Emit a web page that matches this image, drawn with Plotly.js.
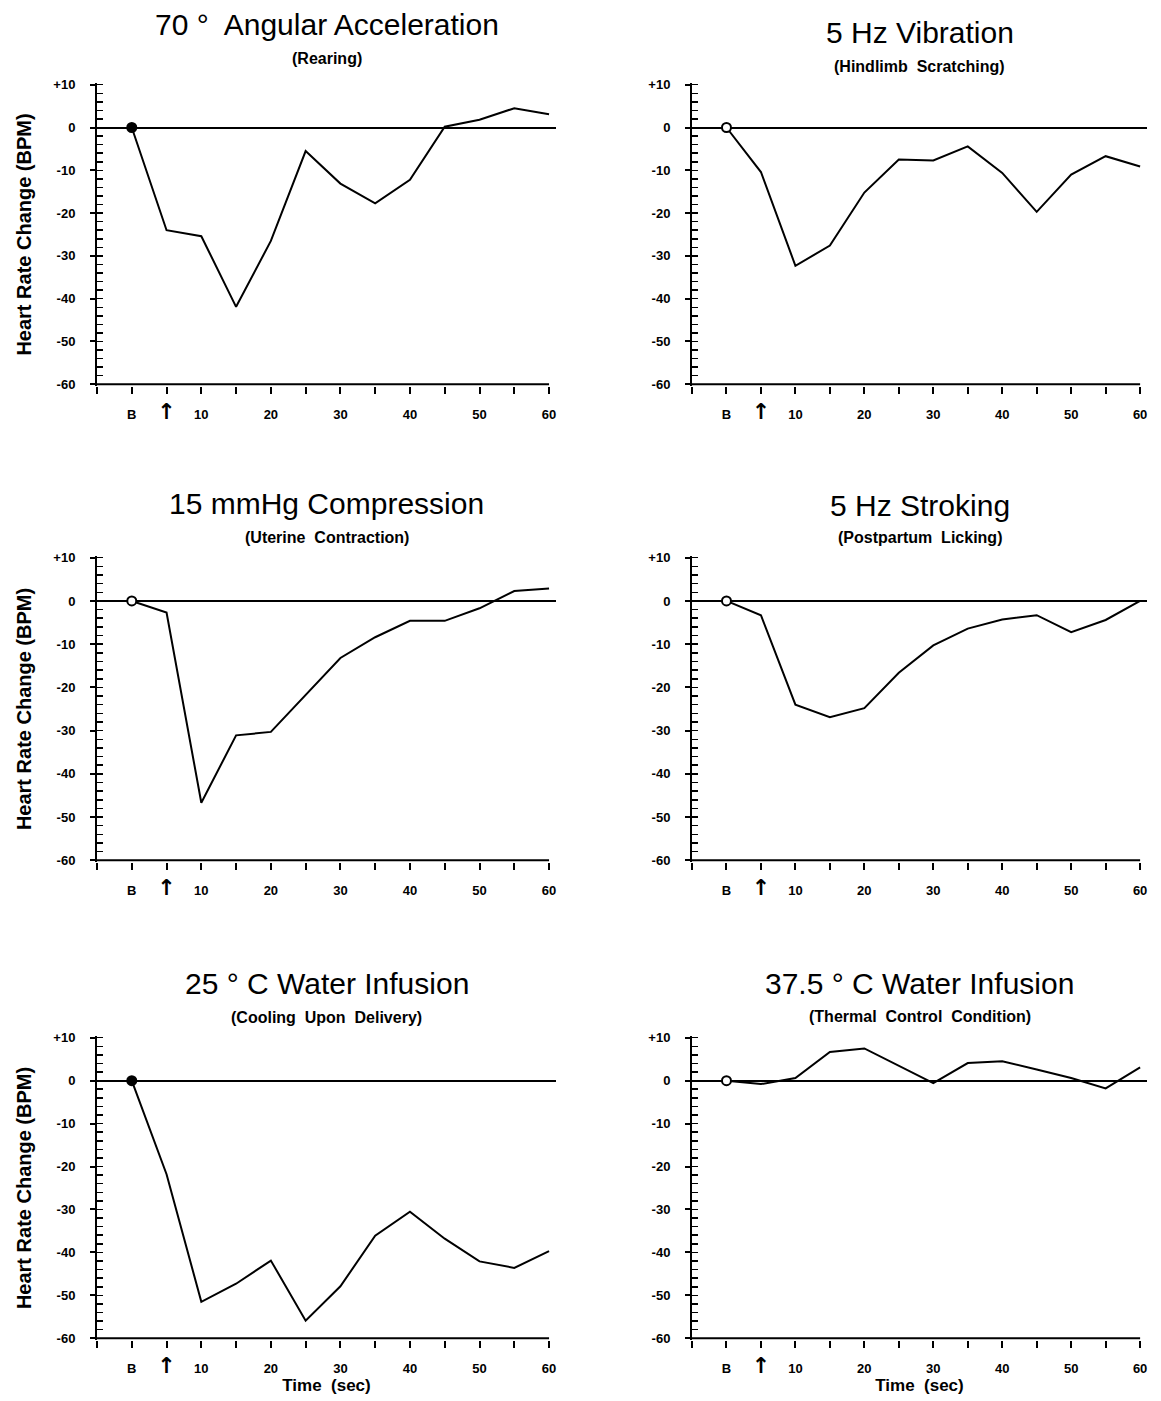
<!DOCTYPE html>
<html>
<head>
<meta charset="utf-8">
<script src="https://cdn.plot.ly/plotly-3.0.1.min.js"></script>
<style>html,body{margin:0;padding:0;background:#fff}#chart{width:1161px;height:1401px}</style>
</head>
<body>
<div id="chart"></div>
<script>
// ---- data ----
const timeSec = [0, 5, 10, 15, 20, 25, 30, 35, 40, 45, 50, 55, 60];
const xTickVals = [-5, 0, 5, 10, 15, 20, 25, 30, 35, 40, 45, 50, 55, 60];
const xTickText = ["", "B", "<span style=\"font-family:'DejaVu Sans';font-size:22px;font-weight:bold\">↑</span>", "10", "", "20", "", "30", "", "40", "", "50", "", "60"];
const yTickVals = [10, 0, -10, -20, -30, -40, -50, -60];
const yTickText = ["+10", "0", "-10", "-20", "-30", "-40", "-50", "-60"];

const angularAcceleration = [0, -24, -25.4, -41.9, -26.5, -5.5, -13.1, -17.7, -12.2, 0.2, 1.8, 4.5, 3.1];
const vibration5Hz = [0, -10.4, -32.3, -27.6, -15.2, -7.5, -7.7, -4.4, -10.6, -19.7, -11, -6.7, -9.1];
const compression15 = [0, -2.7, -46.7, -31.1, -30.3, -21.7, -13.2, -8.4, -4.6, -4.6, -1.7, 2.3, 2.9];
const stroking5Hz = [0, -3.3, -24, -26.9, -24.8, -16.6, -10.3, -6.4, -4.3, -3.3, -7.2, -4.4, 0];
const water25C = [0, -21.8, -51.5, -47.3, -41.9, -55.9, -47.9, -36.1, -30.5, -36.8, -42.1, -43.6, -39.7];
const water375C = [0, -0.8, 0.6, 6.7, 7.5, 3.5, -0.6, 4.1, 4.5, 2.6, 0.6, -1.8, 3.1];

const panelTitles = ["70 °  Angular Acceleration", "5 Hz Vibration", "15 mmHg Compression", "5 Hz Stroking", "25 ° C Water Infusion", "37.5 ° C Water Infusion"];
const panelSubtitles = ["(Rearing)", "(Hindlimb  Scratching)", "(Uterine  Contraction)", "(Postpartum  Licking)", "(Cooling  Upon  Delivery)", "(Thermal  Control  Condition)"];
const baselineFilled = [true, false, false, false, true, false];

// ---- layout geometry (pixels) ----
const W = 1161, H = 1401;
const FONT = "Liberation Sans, Arial, Helvetica, sans-serif";
const colPx = [[97, 556], [692, 1147]];
const rowPx = [[83, 386], [556, 862], [1036, 1340]];
const titleY = [[25, 59], [32, 67], [503, 537], [505, 538], [983, 1017], [983, 1016]];
const series = [angularAcceleration, vibration5Hz, compression15, stroking5Hz, water25C, water375C];

const px2x = p => p / W;
const px2y = p => 1 - p / H;

const data = [];
const layout = {
  width: W, height: H,
  margin: {l: 0, r: 0, t: 0, b: 0},
  paper_bgcolor: "#fff", plot_bgcolor: "#fff",
  showlegend: false,
  font: {family: FONT, color: "#000"},
  annotations: [], shapes: []
};

series.forEach((vals, i) => {
  const n = i + 1;
  const xa = n === 1 ? "x" : "x" + n;
  const ya = n === 1 ? "y" : "y" + n;
  const col = i % 2, row = Math.floor(i / 2);
  data.push({
    x: timeSec, y: vals, xaxis: xa, yaxis: ya,
    type: "scatter", mode: "lines",
    line: {color: "#000", width: 2}, cliponaxis: false, hoverinfo: "skip"
  });
  data.push({
    x: timeSec.slice(0, 1), y: vals.slice(0, 1), xaxis: xa, yaxis: ya,
    type: "scatter", mode: "markers", cliponaxis: false,
    marker: {symbol: "circle", size: 9, color: baselineFilled[i] ? "#000" : "#fff", line: {color: "#000", width: 2}}
  });
  const xKey = n === 1 ? "xaxis" : "xaxis" + n;
  const yKey = n === 1 ? "yaxis" : "yaxis" + n;
  layout[xKey] = {
    domain: [px2x(colPx[col][0]), px2x(colPx[col][1])],
    anchor: ya, range: [-5, 61],
    tickmode: "array", tickvals: xTickVals, ticktext: xTickText,
    ticks: "outside", ticklen: 7, tickwidth: 2, tickcolor: "#000",
    ticklabelstandoff: 9,
    tickfont: {family: FONT, size: 13, weight: "bold", color: "#000"},
    showline: false, showgrid: false, zeroline: false, fixedrange: true
  };
  if (row === 2) {
    layout[xKey].title = {text: "Time  (sec)", standoff: 2, font: {family: FONT, size: 17, weight: "bold", color: "#000"}};
  }
  layout[yKey] = {
    domain: [px2y(rowPx[row][1]), px2y(rowPx[row][0])],
    anchor: xa, range: [-60.4, 10.4],
    tickmode: "array", tickvals: yTickVals, ticktext: yTickText,
    ticks: "outside", ticklen: 5, tickwidth: 2, tickcolor: "#000",
    ticklabelstandoff: 12,
    tickfont: {family: FONT, size: 13, weight: "bold", color: "#000"},
    minor: {tickmode: "linear", tick0: 0, dtick: 2, ticks: "inside", ticklen: 6, tickwidth: 1.5, tickcolor: "#000", showgrid: false},
    showline: true, linewidth: 2, linecolor: "#000",
    showgrid: false, zeroline: true, zerolinecolor: "#000", zerolinewidth: 2, fixedrange: true
  };
  if (col === 0) {
    layout[yKey].title = {text: "Heart Rate Change (BPM)", standoff: 16, font: {family: FONT, size: 20, weight: "bold", color: "#000"}};
  }
  // x baseline (from -5 to 60)
  layout.shapes.push({type: "line", xref: xa, yref: ya, x0: -5, x1: 60, y0: -60, y1: -60, line: {color: "#000", width: 2}});
  const cx = px2x((colPx[col][0] + colPx[col][1]) / 2);
  layout.annotations.push({
    text: panelTitles[i], xref: "paper", yref: "paper", x: cx, y: px2y(titleY[i][0]),
    xanchor: "center", yanchor: "middle", showarrow: false,
    font: {family: FONT, size: 30, color: "#000"}
  });
  layout.annotations.push({
    text: panelSubtitles[i], xref: "paper", yref: "paper", x: cx, y: px2y(titleY[i][1]),
    xanchor: "center", yanchor: "middle", showarrow: false,
    font: {family: FONT, size: 16, weight: "bold", color: "#000"}
  });
});

Plotly.newPlot("chart", data, layout, {staticPlot: true, displayModeBar: false});
</script>
</body>
</html>
